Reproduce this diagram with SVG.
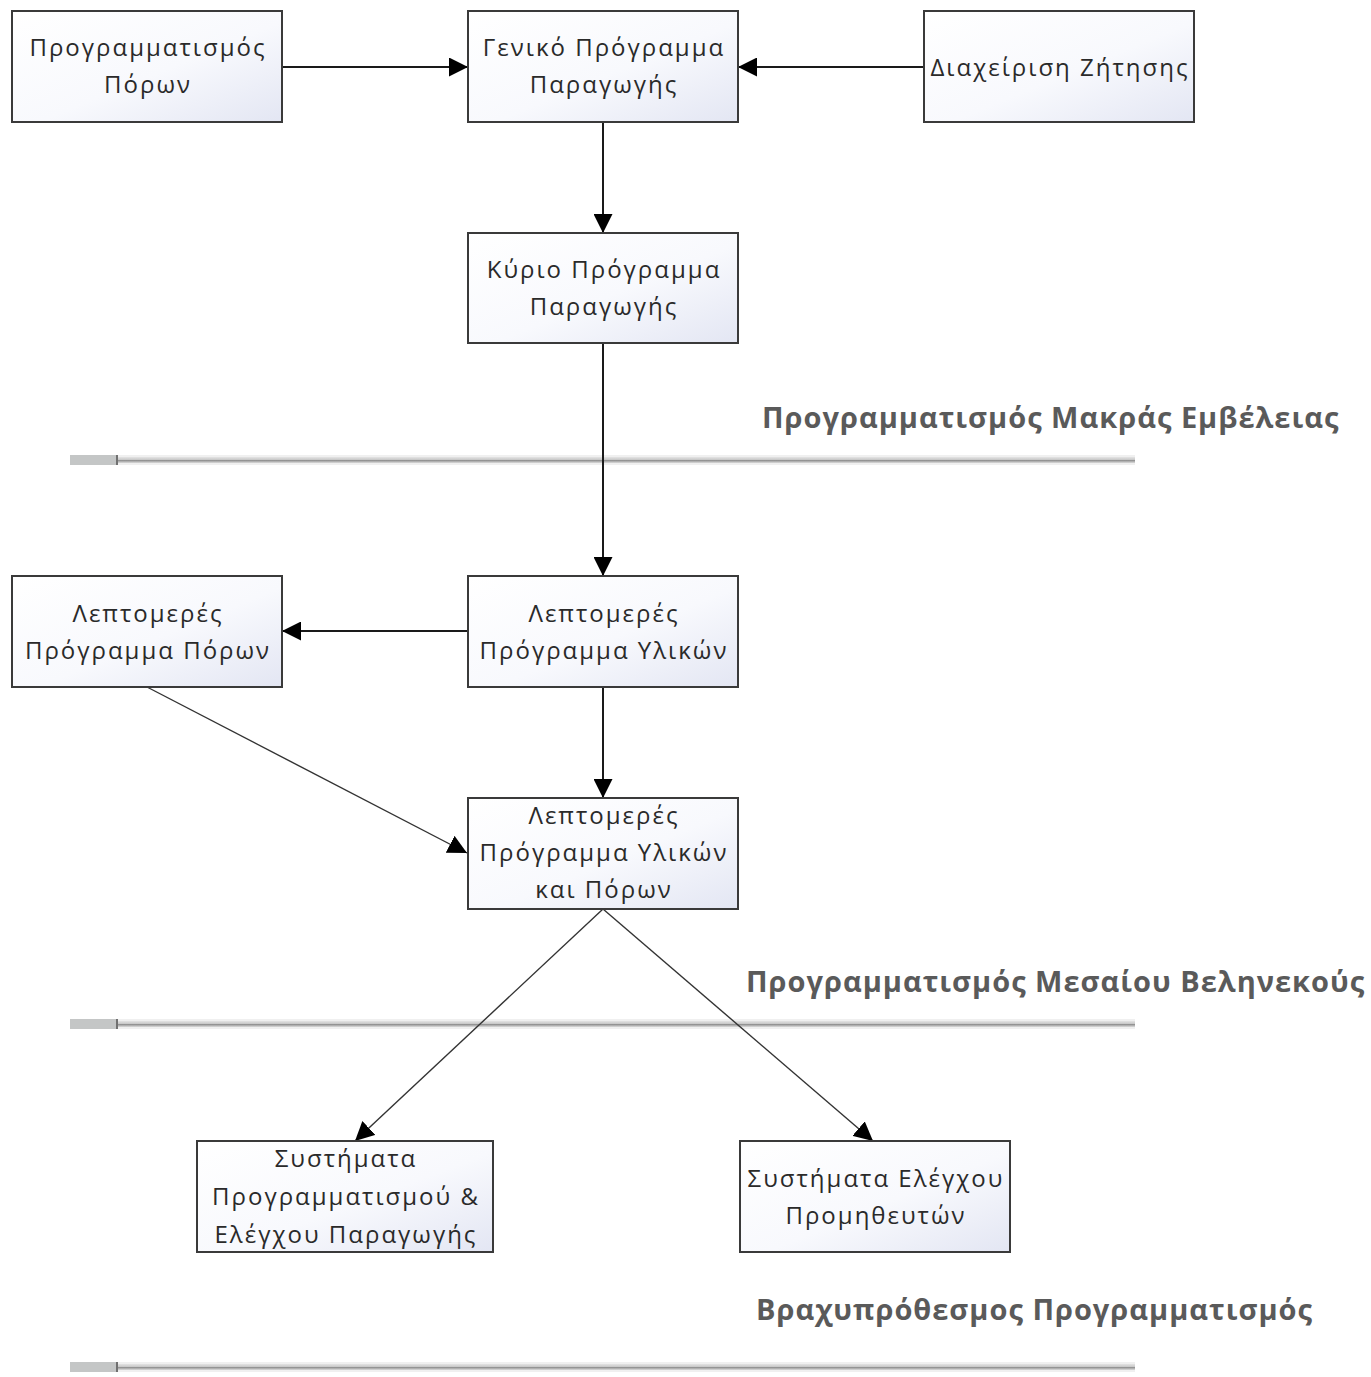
<svg xmlns="http://www.w3.org/2000/svg" width="1371" height="1377" viewBox="0 0 1371 1377">
  <style>
    .box { fill: url(#boxFill); stroke: #3a3a3a; stroke-width: 2; }
    .lbl { font-family: "Open Sans", "Noto Sans", sans-serif; font-size: 24px; fill: #2a2a2a; text-anchor: middle; letter-spacing: 2px; }
    .sec { font-family: "Open Sans", "Noto Sans", sans-serif; font-size: 29px; font-weight: bold; fill: #5a5a5a; letter-spacing: 1px; }
    .edge { stroke: #1a1a1a; stroke-width: 2; fill: none; marker-end: url(#arrow); }
    .thin { stroke: #333; stroke-width: 1.4; fill: none; marker-end: url(#arrow); }
  </style>
  <defs>
    <linearGradient id="boxFill" x1="0" y1="0" x2="1" y2="1">
      <stop offset="0" stop-color="#ffffff"/>
      <stop offset="0.55" stop-color="#f8f9fd"/>
      <stop offset="1" stop-color="#e3e6f3"/>
    </linearGradient>
    <linearGradient id="rail" x1="0" y1="0" x2="0" y2="1">
      <stop offset="0" stop-color="#e4e4e4"/>
      <stop offset="0.45" stop-color="#c8c8c8"/>
      <stop offset="0.55" stop-color="#8e8e8e"/>
      <stop offset="1" stop-color="#dcdcdc"/>
    </linearGradient>
    <marker id="arrow" viewBox="0 0 10 10" refX="10" refY="5" markerWidth="19" markerHeight="19" markerUnits="userSpaceOnUse" orient="auto">
      <path d="M0,0 L10,5 L0,10 Z" fill="#000"/>
    </marker>
    <g id="separator">
      <rect x="70" y="-5" width="1065" height="10" fill="#f0f0f0"/>
      <rect x="70" y="-3" width="1065" height="6" fill="url(#rail)"/>
      <rect x="70" y="-5" width="47" height="10" fill="#c4c6c6"/>
      <rect x="116" y="-5" width="2" height="10" fill="#707070"/>
    </g>
  </defs>

  <rect width="1371" height="1377" fill="#ffffff"/>

  <!-- planning horizon separators and titles -->
  <g id="horizons">
    <use href="#separator" y="460"/>
    <use href="#separator" y="1024"/>
    <use href="#separator" y="1367"/>
    <text class="sec" x="762" y="428">Προγραμματισμός Μακράς Εμβέλειας</text>
    <text class="sec" x="746" y="992">Προγραμματισμός Μεσαίου Βεληνεκούς</text>
    <text class="sec" x="756" y="1320">Βραχυπρόθεσμος Προγραμματισμός</text>
  </g>

  <!-- connectors -->
  <g id="connectors">
    <line class="edge" x1="282" y1="67" x2="468" y2="67"/>
    <line class="edge" x1="924" y1="67" x2="738" y2="67"/>
    <line class="edge" x1="603" y1="122" x2="603" y2="233"/>
    <line class="edge" x1="603" y1="343" x2="603" y2="576"/>
    <line class="edge" x1="468" y1="631" x2="282" y2="631"/>
    <line class="edge" x1="603" y1="687" x2="603" y2="798"/>
    <line class="thin" x1="147" y1="687" x2="467" y2="853"/>
    <line class="thin" x1="603" y1="909" x2="355" y2="1141"/>
    <line class="thin" x1="603" y1="909" x2="873" y2="1141"/>
  </g>

  <g id="n-resource-planning">
    <rect class="box" x="12" y="11" width="270" height="111"/>
    <text class="lbl" x="148" y="56">Προγραμματισμός</text>
    <text class="lbl" x="148" y="93">Πόρων</text>
  </g>
  <g id="n-aggregate-plan">
    <rect class="box" x="468" y="11" width="270" height="111"/>
    <text class="lbl" x="604" y="56">Γενικό Πρόγραμμα</text>
    <text class="lbl" x="604" y="93">Παραγωγής</text>
  </g>
  <g id="n-demand-management">
    <rect class="box" x="924" y="11" width="270" height="111"/>
    <text class="lbl" x="1060" y="76">Διαχείριση Ζήτησης</text>
  </g>
  <g id="n-master-schedule">
    <rect class="box" x="468" y="233" width="270" height="110"/>
    <text class="lbl" x="604" y="278">Κύριο Πρόγραμμα</text>
    <text class="lbl" x="604" y="315">Παραγωγής</text>
  </g>
  <g id="n-detailed-resource-plan">
    <rect class="box" x="12" y="576" width="270" height="111"/>
    <text class="lbl" x="148" y="622">Λεπτομερές</text>
    <text class="lbl" x="148" y="659">Πρόγραμμα Πόρων</text>
  </g>
  <g id="n-detailed-material-plan">
    <rect class="box" x="468" y="576" width="270" height="111"/>
    <text class="lbl" x="604" y="622">Λεπτομερές</text>
    <text class="lbl" x="604" y="659">Πρόγραμμα Υλικών</text>
  </g>
  <g id="n-detailed-material-resource-plan">
    <rect class="box" x="468" y="798" width="270" height="111"/>
    <text class="lbl" x="604" y="824">Λεπτομερές</text>
    <text class="lbl" x="604" y="861">Πρόγραμμα Υλικών</text>
    <text class="lbl" x="604" y="898">και Πόρων</text>
  </g>
  <g id="n-production-control">
    <rect class="box" x="197" y="1141" width="296" height="111"/>
    <text class="lbl" x="346" y="1167">Συστήματα</text>
    <text class="lbl" x="346" y="1205">Προγραμματισμού &amp;</text>
    <text class="lbl" x="346" y="1243">Ελέγχου Παραγωγής</text>
  </g>
  <g id="n-supplier-control">
    <rect class="box" x="740" y="1141" width="270" height="111"/>
    <text class="lbl" x="876" y="1187">Συστήματα Ελέγχου</text>
    <text class="lbl" x="876" y="1224">Προμηθευτών</text>
  </g>
</svg>
